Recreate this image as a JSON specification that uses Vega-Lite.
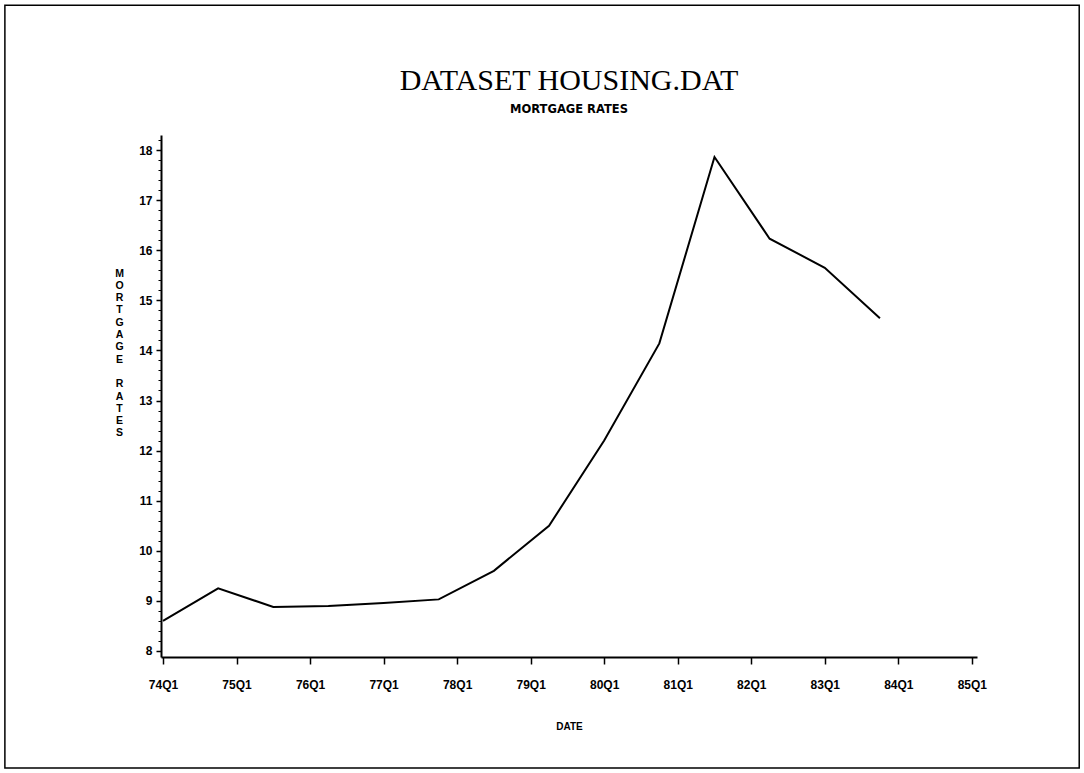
{
  "$schema": "https://vega.github.io/schema/vega-lite/v6.json",
  "width": 816,
  "height": 522,
  "autosize": {"type": "none"},
  "padding": {"left": 161, "top": 135, "right": 107, "bottom": 116},
  "background": "white",
  "title": {
    "text": "DATASET HOUSING.DAT",
    "subtitle": "MORTGAGE RATES",
    "font": "Liberation Serif",
    "fontSize": 30,
    "fontWeight": "normal",
    "color": "black",
    "subtitleFont": "DejaVu Sans",
    "subtitleFontSize": 11.5,
    "subtitleFontWeight": "bold",
    "subtitleColor": "black",
    "anchor": "middle",
    "frame": "group",
    "offset": -111,
    "subtitlePadding": 8
  },
  "data": {
    "values": [
      {"date": 1974.0, "rate": 8.6},
      {"date": 1974.75, "rate": 9.25},
      {"date": 1975.5, "rate": 8.88},
      {"date": 1976.25, "rate": 8.9},
      {"date": 1977.0, "rate": 8.96},
      {"date": 1977.75, "rate": 9.03},
      {"date": 1978.5, "rate": 9.6},
      {"date": 1979.25, "rate": 10.5},
      {"date": 1980.0, "rate": 12.2},
      {"date": 1980.75, "rate": 14.14},
      {"date": 1981.5, "rate": 17.86},
      {"date": 1982.25, "rate": 16.23},
      {"date": 1983.0, "rate": 15.65},
      {"date": 1983.75, "rate": 14.64}
    ]
  },
  "layer": [
    {
      "data": {"values": [{"frame": 1}]},
      "mark": {"type": "rect", "fill": null, "stroke": "black", "strokeWidth": 1.5, "clip": false},
      "encoding": {
        "x": {"datum": 1971.85, "type": "quantitative", "axis": null, "scale": {"domain": [1973.973, 1985.07], "nice": false, "zero": false}},
        "x2": {"datum": 1986.46},
        "y": {"datum": 20.89, "type": "quantitative", "axis": null, "scale": {"domain": [7.88, 18.3], "nice": false, "zero": false}},
        "y2": {"datum": 5.665}
      }
    },
    {
      "mark": {"type": "line", "strokeOpacity": 0},
      "encoding": {
        "x": {"field": "date", "type": "quantitative", "axis": null, "scale": {"domain": [1973.973, 1985.07], "nice": false, "zero": false}},
        "y": {
          "field": "rate",
          "type": "quantitative",
          "scale": {"domain": [7.88, 18.3], "nice": false, "zero": false},
          "axis": {
            "orient": "left",
            "values": [8, 8.2, 8.4, 8.6, 8.8, 9, 9.2, 9.4, 9.6, 9.8, 10, 10.2, 10.4, 10.6, 10.8, 11, 11.2, 11.4, 11.6, 11.8, 12, 12.2, 12.4, 12.6, 12.8, 13, 13.2, 13.4, 13.6, 13.8, 14, 14.2, 14.4, 14.6, 14.8, 15, 15.2, 15.4, 15.6, 15.8, 16, 16.2, 16.4, 16.6, 16.8, 17, 17.2, 17.4, 17.6, 17.8, 18, 18.2],
            "labels": false,
            "domain": false,
            "grid": false,
            "title": null,
            "tickSize": 3,
            "tickWidth": 1,
            "tickColor": "black"
          }
        }
      }
    },
    {
      "mark": {"type": "line", "color": "black", "strokeWidth": 2},
      "encoding": {
        "x": {
          "field": "date",
          "type": "quantitative",
          "scale": {"domain": [1973.973, 1985.07], "nice": false, "zero": false},
          "axis": {
            "values": [1974, 1975, 1976, 1977, 1978, 1979, 1980, 1981, 1982, 1983, 1984, 1985],
            "labelExpr": "substring(toString(datum.value), 2, 4) + 'Q1'",
            "grid": false,
            "domainColor": "black",
            "domainWidth": 2,
            "tickColor": "black",
            "tickWidth": 1.5,
            "tickSize": 7,
            "labelFont": "Liberation Sans",
            "labelFontSize": 12,
            "labelFontWeight": "bold",
            "labelColor": "black",
            "labelPadding": 15,
            "title": "DATE",
            "titleFont": "Liberation Sans",
            "titleFontSize": 10,
            "titleFontWeight": "bold",
            "titleColor": "black",
            "titlePadding": 31
          }
        },
        "y": {
          "field": "rate",
          "type": "quantitative",
          "scale": {"domain": [7.88, 18.3], "nice": false, "zero": false},
          "axis": {
            "orient": "left",
            "values": [8, 9, 10, 11, 12, 13, 14, 15, 16, 17, 18],
            "grid": false,
            "domainColor": "black",
            "domainWidth": 2,
            "tickColor": "black",
            "tickWidth": 1.5,
            "tickSize": 5,
            "labelFont": "Liberation Sans",
            "labelFontSize": 12,
            "labelFontWeight": "bold",
            "labelColor": "black",
            "labelPadding": 4,
            "title": ["M", "O", "R", "T", "G", "A", "G", "E", "\u200b", "R", "A", "T", "E", "S"],
            "titleFont": "Liberation Sans",
            "titleFontSize": 10.5,
            "titleFontWeight": "bold",
            "titleColor": "black",
            "titleAngle": 0,
            "titleAlign": "center",
            "titleBaseline": "top",
            "titleLineHeight": 12.3,
            "titleX": -42,
            "titleY": 133
          }
        }
      }
    }
  ],
  "resolve": {"axis": {"x": "independent", "y": "independent"}},
  "config": {"view": {"stroke": null}}
}
